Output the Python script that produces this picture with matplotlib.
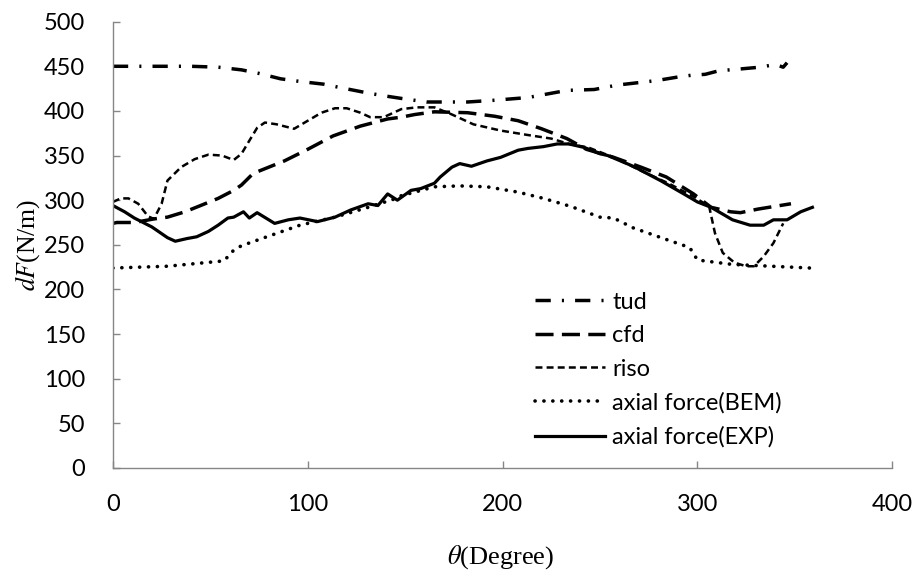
import matplotlib
matplotlib.use("Agg")
import matplotlib.pyplot as plt

plt.rcParams["font.family"] = ["Lato", "DejaVu Sans"]
plt.rcParams["mathtext.fontset"] = "stix"
plt.rcParams["lines.scale_dashes"] = False

# ── data ──────────────────────────────────────────────
tud_x = [0, 20, 40, 54, 66, 75, 86, 96, 108, 117, 131, 139, 148, 161, 182, 196,
         213, 233, 247, 259, 279, 290, 297, 304, 311, 322, 332, 340, 344, 346]
tud_y = [450, 450, 450, 449, 446, 442, 436, 433, 430, 426, 420, 417, 414, 410, 410, 412,
         415, 423, 424, 429, 434, 438, 440, 441, 445, 447, 449, 452, 449, 454]

cfd_x = [0, 2, 11, 21, 28, 37, 45, 54, 62, 66, 72, 88, 100, 113, 127, 141, 148, 155,
         165, 182, 196, 208, 220, 233, 243, 257, 271, 284, 298, 307, 317, 322, 331, 348]
cfd_y = [274, 275, 275, 279, 281, 287, 294, 302, 311, 317, 330, 344, 357, 372, 383, 391, 393, 396,
         399, 398, 394, 389, 380, 369, 357, 348, 337, 326, 307, 292, 287, 286, 290, 296]

riso_x = [0, 4, 8, 13, 18, 21, 25, 28, 35, 42, 49, 56, 62, 66, 69, 74, 78, 84, 93, 100,
          107, 114, 120, 127, 132, 139, 148, 156, 165, 174, 185, 199, 213, 225, 234, 244,
          257, 271, 285, 298, 306, 309, 313, 319, 325, 329, 334, 339, 344]
riso_y = [298, 302, 302, 296, 282, 279, 296, 322, 337, 346, 351, 350, 345, 352, 363, 381, 387, 385, 380, 389,
          398, 403, 403, 398, 393, 393, 402, 404, 404, 396, 385, 378, 373, 369, 363, 359,
          348, 333, 319, 304, 293, 263, 241, 230, 226, 226, 237, 252, 274]

bem_x = [0, 28, 57, 62, 66, 79, 96, 114, 131, 144, 148, 165, 178, 192, 208, 221, 235,
         250, 257, 267, 284, 296, 300, 318, 358]
bem_y = [224, 226, 232, 244, 249, 259, 272, 281, 292, 301, 305, 315, 316, 315, 309, 302, 293,
         281, 280, 269, 256, 247, 233, 228, 224]

exp_x = [0, 6, 11, 20, 28, 32, 38, 43, 49, 54, 59, 62, 67, 70, 74, 83, 90, 96, 105, 114,
         122, 131, 136, 141, 146, 153, 158, 165, 168, 174, 178, 184, 192, 199, 208, 213,
         221, 228, 234, 242, 250, 254, 267, 281, 293, 300, 307, 318, 327, 334, 339, 346, 353, 359]
exp_y = [294, 287, 280, 270, 258, 254, 257, 259, 265, 272, 280, 281, 287, 280, 286, 274, 278, 280, 276, 281,
         289, 296, 294, 307, 300, 311, 313, 319, 326, 337, 341, 338, 344, 348, 356, 358,
         360, 363, 363, 359, 352, 350, 338, 322, 307, 298, 292, 278, 272, 272, 278, 278, 287, 292]

# ── plot ──────────────────────────────────────────────
fig = plt.figure(figsize=(9.18, 5.70), dpi=100)
ax = fig.add_axes([0.123, 0.179, 0.849, 0.783])

ax.plot(tud_x, tud_y, color="black", lw=2.5, linestyle=(0, (11, 8, 1.5, 8)), label="tud")
ax.plot(cfd_x, cfd_y, color="black", lw=2.5, linestyle=(0, (13, 6)), label="cfd")
ax.plot(riso_x, riso_y, color="black", lw=1.8, linestyle=(0, (5, 3)), label="riso")
ax.plot(bem_x, bem_y, color="black", lw=2.6, linestyle=(0, (0.1, 6.3)),
        dash_capstyle="round", label="axial force(BEM)")
ax.plot(exp_x, exp_y, color="black", lw=2.3, label="axial force(EXP)")

ax.set_xlim(0, 400)
ax.set_ylim(0, 500)
ax.set_xticks(range(0, 401, 100))
ax.set_yticks(range(0, 501, 50))

for s in ["top", "right"]:
    ax.spines[s].set_visible(False)
for s in ["left", "bottom"]:
    ax.spines[s].set_color("#868686")
    ax.spines[s].set_linewidth(1)

ax.tick_params(direction="in", length=5, width=1, color="#868686", labelsize=17)
ax.tick_params(axis="y", pad=20)
ax.tick_params(axis="x", pad=19)

ax.set_xlabel(r"$\theta$(Degree)", fontsize=19, family="Liberation Serif", va="center")
ax.set_ylabel(r"$dF$(N/m)", fontsize=18.5, family="Liberation Serif", va="center")
ax.xaxis.set_label_coords(0.497, -0.2)
ax.yaxis.set_label_coords(-0.109, 0.5)

ax.legend(loc="upper left", bbox_to_anchor=(0.542, 0.395), frameon=False, fontsize=17,
          borderpad=0, borderaxespad=0, handlelength=2.96, handletextpad=0.3,
          labelspacing=0.53)

plt.savefig("out.png", dpi=100)
plt.close()
